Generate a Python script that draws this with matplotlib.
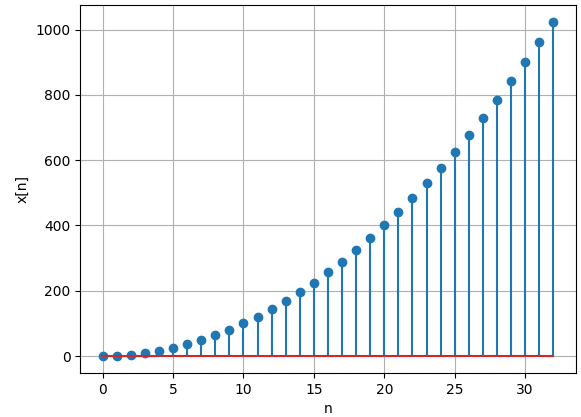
import matplotlib
matplotlib.use("Agg")
import matplotlib.pyplot as plt

# sample index and signal values
n = list(range(0, 33))
x = [0, 1, 4, 9, 16, 25, 36, 49, 64, 81, 100, 121, 144, 169, 196, 225,
     256, 289, 324, 361, 400, 441, 484, 529, 576, 625, 676, 729, 784, 841,
     900, 961, 1024]

fig = plt.figure(figsize=(5.81, 4.17), dpi=100)
plt.stem(n, x)
plt.xlabel('n')
plt.ylabel('x[n]')
plt.grid(True)
plt.subplots_adjust(left=0.138, right=0.991, top=0.988, bottom=0.106)
plt.savefig('out.png', dpi=100)
